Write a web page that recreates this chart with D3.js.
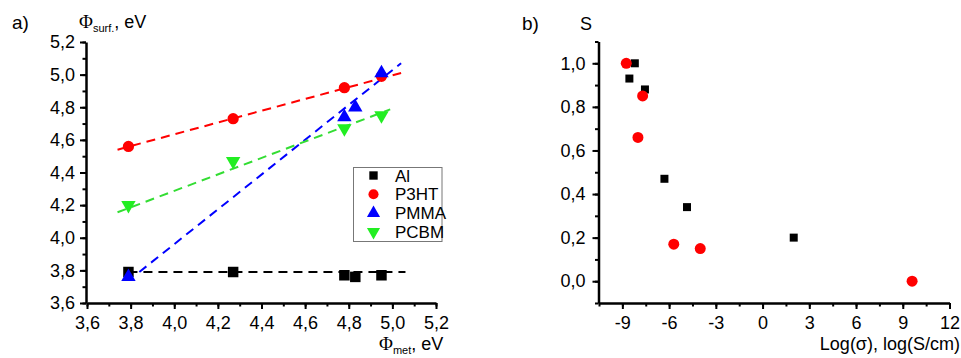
<!DOCTYPE html>
<html><head><meta charset="utf-8">
<script src="https://cdn.jsdelivr.net/npm/d3@7"></script>
<style>
body{margin:0;background:#fff}
svg{display:block}
text{font-family:"Liberation Sans",Arial,sans-serif;fill:#000}
</style></head>
<body><svg width="961" height="358"></svg>
<script>
// ---------- data: panel a ----------
const seriesNames = ["Al", "P3HT", "PMMA", "PCBM"];
const alX = [3.79, 4.27, 4.78, 4.83, 4.95];
const alY = [3.79, 3.79, 3.77, 3.76, 3.77];
const p3htX = [3.79, 4.27, 4.78, 4.95];
const p3htY = [4.56, 4.73, 4.92, 4.99];
const pmmaX = [3.79, 4.78, 4.83, 4.95];
const pmmaY = [3.76, 4.74, 4.80, 5.01];
const pcbmX = [3.79, 4.27, 4.78, 4.95];
const pcbmY = [4.20, 4.47, 4.67, 4.75];
// fitted lines (end points)
const fitAl = [[3.79, 3.79], [5.06, 3.79]];
const fitP3ht = [[3.74, 4.54], [5.04, 5.01]];
const fitPmma = [[3.84, 3.79], [5.04, 5.07]];
const fitPcbm = [[3.74, 4.156], [4.99, 4.787]];
const ticksA = [3.6, 3.8, 4.0, 4.2, 4.4, 4.6, 4.8, 5.0, 5.2];

// ---------- data: panel b ----------
const bSquareX = [-8.2, -8.55, -7.55, -6.3, -4.85, 2.0];
const bSquareY = [1.0, 0.93, 0.88, 0.47, 0.34, 0.20];
const bCircleX = [-8.75, -7.7, -8.0, -5.7, -4.0, 9.6];
const bCircleY = [1.0, 0.85, 0.66, 0.17, 0.15, 0.0];
const ticksBX = [-9, -6, -3, 0, 3, 6, 9, 12];
const ticksBY = [0.0, 0.2, 0.4, 0.6, 0.8, 1.0];

const svg = d3.select("svg");
const fmtC = d => d3.format(".1f")(d).replace(".", ",");
const FS = 18;

function styleAxis(g) {
  g.select(".domain").attr("stroke", "#000").attr("stroke-width", 2.5);
  g.selectAll(".tick line").attr("stroke", "#000").attr("stroke-width", 2);
  g.selectAll("text").style("font-size", FS + "px").attr("fill", "#000");
}
function minorAxis(g) {
  g.select(".domain").remove();
  g.selectAll(".tick line").attr("stroke", "#000").attr("stroke-width", 2);
  g.selectAll("text").remove();
}
function range(a, b, s) { const r = []; for (let v = a; v <= b + 1e-9; v += s) r.push(+v.toFixed(4)); return r; }

// ================= panel a =================
const xA = d3.scaleLinear().domain([3.6, 5.2]).range([87, 436]);
const yA = d3.scaleLinear().domain([3.6, 5.2]).range([303, 42]);

svg.append("g").attr("transform", "translate(0,303)")
  .call(d3.axisBottom(xA).tickValues(range(3.6, 5.2, 0.1)).tickSize(3.5).tickFormat(""))
  .call(minorAxis);
svg.append("g").attr("transform", "translate(86,0)")
  .call(d3.axisLeft(yA).tickValues(range(3.6, 5.2, 0.1)).tickSize(3.5).tickFormat(""))
  .call(minorAxis);
svg.append("g").attr("transform", "translate(0,303)")
  .call(d3.axisBottom(xA).tickValues(ticksA).tickSize(6).tickSizeOuter(0).tickPadding(7).tickFormat(fmtC))
  .call(styleAxis);
svg.append("g").attr("transform", "translate(86,0)")
  .call(d3.axisLeft(yA).tickValues(ticksA).tickSize(6).tickSizeOuter(0).tickPadding(5).tickFormat(fmtC))
  .call(styleAxis);

const lineA = d3.line().x(d => xA(d[0])).y(d => yA(d[1]));
[[fitAl, "#000"], [fitP3ht, "#ff0000"], [fitPmma, "#0000ff"], [fitPcbm, "#33dd33"]].forEach(([f, c]) => {
  svg.append("path").attr("d", lineA(f)).attr("fill", "none").attr("stroke", c)
    .attr("stroke-width", 2).attr("stroke-dasharray", "9,6");
});

const sym = (type, size) => d3.symbol().type(type).size(size)();
function pts(xs, ys, xS, yS, path, color, rot) {
  svg.append("g").selectAll("path").data(xs.map((x, i) => [x, ys[i]])).join("path")
    .attr("d", path).attr("fill", color)
    .attr("transform", d => `translate(${xS(d[0])},${yS(d[1])})` + (rot ? " rotate(180)" : ""));
}
pts(alX, alY, xA, yA, sym(d3.symbolSquare, 110), "#000");
pts(p3htX, p3htY, xA, yA, sym(d3.symbolCircle, 100), "#ff0000");
pts(pmmaX, pmmaY, xA, yA, sym(d3.symbolTriangle, 90), "#0000ff");
pts(pcbmX, pcbmY, xA, yA, sym(d3.symbolTriangle, 90), "#22ee22", true);

// legend
const leg = svg.append("g");
leg.append("rect").attr("x", 353.5).attr("y", 167.5).attr("width", 88.5).attr("height", 74)
  .attr("fill", "#fff").attr("stroke", "#777").attr("stroke-width", 1);
const legSyms = [
  [sym(d3.symbolSquare, 70), "#000", false],
  [sym(d3.symbolCircle, 80), "#ff0000", false],
  [sym(d3.symbolTriangle, 75), "#0000ff", false],
  [sym(d3.symbolTriangle, 75), "#22ee22", true]
];
seriesNames.forEach((n, i) => {
  const y = 175.5 + i * 18.8;
  leg.append("path").attr("d", legSyms[i][0]).attr("fill", legSyms[i][1])
    .attr("transform", `translate(373.5,${y})` + (legSyms[i][2] ? " rotate(180)" : ""));
  leg.append("text").attr("x", 395).attr("y", y).attr("dy", "0.36em")
    .style("font-size", "17px").text(n);
});

// labels a
svg.append("text").attr("x", 12).attr("y", 29).style("font-size", "19px").text("a)");
const ta = svg.append("text").attr("x", 79).attr("y", 28).style("font-size", "18px");
ta.append("tspan").style("font-family", "'Liberation Serif',serif").style("font-size", "19px").text("Φ");
ta.append("tspan").attr("dy", 4).style("font-size", "11px").text("surf.");
ta.append("tspan").attr("dy", -4).text(", eV");
const tx = svg.append("text").attr("x", 379).attr("y", 350).style("font-size", "18px");
tx.append("tspan").style("font-family", "'Liberation Serif',serif").style("font-size", "19px").text("Φ");
tx.append("tspan").attr("dy", 4).style("font-size", "11px").text("met");
tx.append("tspan").attr("dy", -4).text(", eV");

// ================= panel b =================
const xB = d3.scaleLinear().domain([-10.5, 12]).range([599, 949.5]);
const yB = d3.scaleLinear().domain([-0.1, 1.1]).range([303, 41.5]);

svg.append("g").attr("transform", "translate(0,303)")
  .call(d3.axisBottom(xB).tickValues(range(-10.5, 12, 1.5)).tickSize(3.5).tickFormat(""))
  .call(minorAxis);
svg.append("g").attr("transform", "translate(598.5,0)")
  .call(d3.axisLeft(yB).tickValues(range(-0.1, 1.1, 0.1)).tickSize(3.5).tickFormat(""))
  .call(minorAxis);
svg.append("g").attr("transform", "translate(0,303)")
  .call(d3.axisBottom(xB).tickValues(ticksBX).tickSize(6).tickSizeOuter(0).tickPadding(7).tickFormat(d => d3.format("d")(d).replace("−", "-")))
  .call(styleAxis);
svg.append("g").attr("transform", "translate(598.5,0)")
  .call(d3.axisLeft(yB).tickValues(ticksBY).tickSize(6).tickSizeOuter(0).tickPadding(7).tickFormat(fmtC))
  .call(styleAxis);

pts(bSquareX, bSquareY, xB, yB, sym(d3.symbolSquare, 64), "#000");
pts(bCircleX, bCircleY, xB, yB, sym(d3.symbolCircle, 95), "#ff0000");

svg.append("text").attr("x", 522).attr("y", 30).style("font-size", "19px").text("b)");
svg.append("text").attr("x", 580).attr("y", 30).style("font-size", "18px").text("S");
svg.append("text").attr("x", 960).attr("y", 350).attr("text-anchor", "end").style("font-size", "18px").text("Log(σ), log(S/cm)");
</script></body></html>
